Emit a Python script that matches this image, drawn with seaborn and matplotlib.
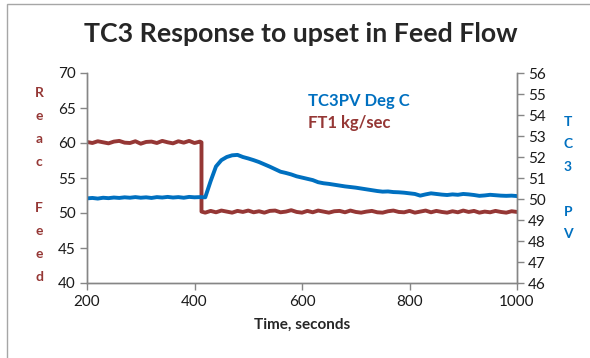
import matplotlib
matplotlib.use("Agg")
import matplotlib.pyplot as plt
import seaborn as sns
from matplotlib.patches import Rectangle

# time axis, seconds (sampled every 10 s)
pv_time = list(range(200, 1001, 10))

# TC3 PV, deg C (right axis)
tc3_pv = [
    50.03, 50.05, 50.02, 50.06, 50.04, 50.07, 50.05, 50.08, 50.06, 50.09,
    50.06, 50.08, 50.05, 50.09, 50.07, 50.10, 50.07, 50.09, 50.06, 50.10,
    50.08, 50.09, 50.08, 50.85, 51.55, 51.85, 52.00, 52.08, 52.10, 52.00,
    51.93, 51.85, 51.76, 51.65, 51.54, 51.42, 51.30, 51.24, 51.17, 51.08,
    51.02, 50.96, 50.90, 50.80, 50.75, 50.72, 50.68, 50.64, 50.60, 50.57,
    50.54, 50.50, 50.46, 50.42, 50.38, 50.35, 50.36, 50.33, 50.32, 50.30,
    50.27, 50.24, 50.16, 50.22, 50.27, 50.24, 50.21, 50.19, 50.22, 50.20,
    50.24, 50.22, 50.19, 50.15, 50.17, 50.20, 50.18, 50.16, 50.15, 50.16,
    50.14,
]

# FT1 feed flow, kg/sec (left axis) - step down at ~413 s
feed_time = list(range(200, 411, 10)) + [413, 413] + list(range(420, 1001, 10))
ft1_feed = [
    60.15, 60.00, 60.25, 60.10, 59.95, 60.20, 60.30, 60.05, 60.00, 60.25,
    59.90, 60.15, 60.20, 60.00, 60.30, 60.10, 59.95, 60.25, 60.05, 60.30,
    60.00, 60.20,
    60.10, 50.20,
    50.05, 50.30, 50.10, 50.35, 50.20, 50.05, 50.30, 50.15, 50.35, 50.10,
    50.25, 50.05, 50.30, 50.35, 50.10, 50.20, 50.40, 50.15, 50.05, 50.30,
    50.10, 50.35, 50.20, 50.05, 50.25, 50.30, 50.10, 50.35, 50.15, 50.05,
    50.20, 50.30, 50.10, 50.05, 50.25, 50.35, 50.15, 50.10, 50.30, 50.05,
    50.20, 50.35, 50.10, 50.30, 50.15, 50.05, 50.25, 50.10, 50.35, 50.15,
    50.30, 50.05, 50.20, 50.10, 50.30, 50.15, 50.05, 50.25, 50.15,
]

blue = "#0070C0"
red = "#953735"
grey = "#868686"

sns.set_style("white")
plt.rcParams["font.family"] = ["Lato", "DejaVu Sans"]

fig = plt.figure(figsize=(5.9, 3.58), dpi=100)
ax = fig.add_axes([87 / 590, 1 - 283 / 358, 430 / 590, 210 / 358])
ax2 = ax.twinx()

sns.lineplot(x=feed_time, y=ft1_feed, ax=ax, color=red, linewidth=2.8,
             estimator=None, sort=False)
sns.lineplot(x=pv_time, y=tc3_pv, ax=ax2, color=blue, linewidth=2.8,
             estimator=None, sort=False)

ax.set_xlim(200, 1000)
ax.set_ylim(40, 70)
ax2.set_ylim(46, 56)
ax.set_xticks([200, 400, 600, 800, 1000])
ax.set_yticks(range(40, 71, 5))
ax2.set_yticks(range(46, 57, 1))

for a in (ax, ax2):
    a.spines["top"].set_visible(False)
    for s in ("left", "right", "bottom"):
        a.spines[s].set_color(grey)
        a.spines[s].set_linewidth(1)
    a.tick_params(axis="both", length=5, width=1, color=grey,
                  labelsize=11, labelcolor="#1a1a1a", direction="out")
ax.tick_params(axis="y", left=True, pad=3)
ax.tick_params(axis="x", bottom=True, pad=4)
ax2.tick_params(axis="y", right=True, pad=3)

ax.set_xlabel("Time, seconds", fontsize=11, fontweight="bold", labelpad=6)
ax.set_ylabel("")
ax2.set_ylabel("")

fig.text(301 / 590, 1 - 34 / 358, "TC3 Response to upset in Feed Flow",
         ha="center", va="center", fontsize=19.3, fontweight="bold")

# stacked axis titles
for i, ch in enumerate("Reac Feed"):
    if ch != " ":
        fig.text(39 / 590, 1 - (93 + 23 * i) / 358, ch, ha="center",
                 va="center", fontsize=10, fontweight="bold", color=red)
for i, ch in enumerate("TC3 PV"):
    if ch != " ":
        fig.text(568 / 590, 1 - (122 + 22.5 * i) / 358, ch, ha="center",
                 va="center", fontsize=10, fontweight="bold", color=blue)

# legend entries
fig.text(308 / 590, 1 - 101 / 358, "TC3PV Deg C", ha="left", va="center",
         fontsize=12, fontweight="bold", color=blue)
fig.text(308 / 590, 1 - 123 / 358, "FT1 kg/sec", ha="left", va="center",
         fontsize=12, fontweight="bold", color=red)

# chart border
fig.patches.append(Rectangle((7 / 590, -0.1), 1.0, 1 - 4 / 358 + 0.1,
                             transform=fig.transFigure, fill=False,
                             edgecolor="#a6a6a6", linewidth=1))

fig.savefig("out.png", dpi=100)
